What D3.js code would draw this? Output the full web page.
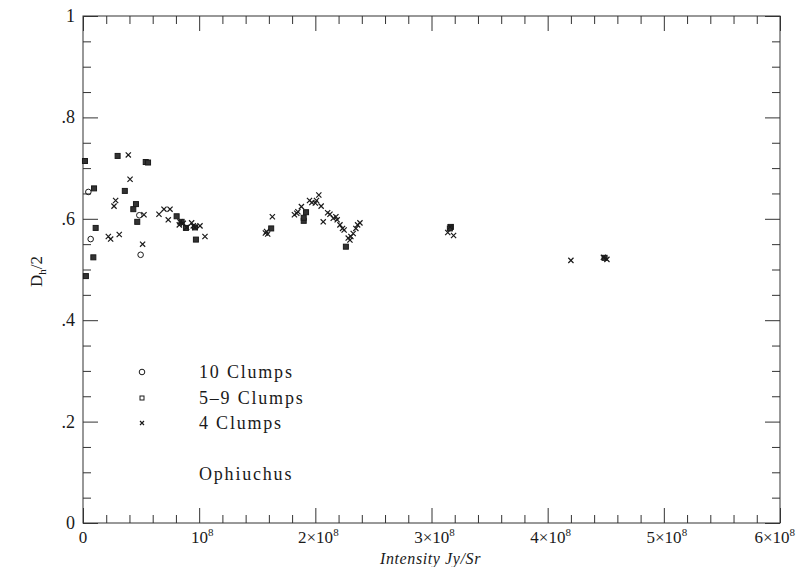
<!DOCTYPE html>
<html><head><meta charset="utf-8">
<script src="https://cdn.jsdelivr.net/npm/d3@7/dist/d3.min.js"></script>
<style>body{margin:0;background:#fff}svg{display:block}</style>
</head><body>
<svg id="c" width="796" height="567"></svg>
<script>
// ---- data ----
const circleX = [4.6e6, 6.6e6, 4.85e7, 4.96e7];
const circleY = [0.653, 0.56, 0.607, 0.529];

const squareX = [1.7e6, 2.5e6, 8.9e6, 9.5e6, 1.09e7, 2.98e7, 3.6e7, 4.56e7, 4.33e7, 4.67e7, 5.4e7, 5.6e7,
  8.06e7, 8.49e7, 8.86e7, 9.64e7, 9.72e7, 1.62e8, 1.92e8, 1.90e8, 1.90e8, 2.263e8, 3.167e8, 3.158e8, 4.49e8];
const squareY = [0.714, 0.487, 0.524, 0.660, 0.582, 0.724, 0.655, 0.629, 0.619, 0.594, 0.712, 0.711,
  0.605, 0.594, 0.582, 0.583, 0.559, 0.581, 0.613, 0.596, 0.602, 0.545, 0.584, 0.581, 0.523];

const crossX = [3.9e7, 4.05e7, 2.81e7, 2.67e7, 5.25e7, 6.54e7, 6.97e7, 7.49e7, 7.34e7, 8.35e7, 8.63e7, 8.29e7,
  8.92e7, 9.35e7, 9.49e7, 9.64e7, 1.007e8, 1.05e8, 2.18e7, 2.38e7, 3.12e7, 5.13e7,
  1.63e8, 1.58e8, 1.57e8, 1.59e8, 1.88e8, 1.84e8, 1.82e8, 1.85e8, 1.95e8, 1.97e8, 2.0e8, 2.01e8, 2.03e8, 2.05e8,
  2.106e8, 2.126e8, 2.068e8, 2.154e8, 2.177e8, 2.188e8, 2.212e8, 2.234e8, 2.248e8, 2.283e8, 2.306e8, 2.326e8,
  2.349e8, 2.364e8, 2.384e8, 2.298e8, 3.16e8, 3.14e8, 3.19e8, 4.2e8, 4.48e8, 4.51e8];
const crossY = [0.726, 0.678, 0.636, 0.625, 0.608, 0.609, 0.619, 0.619, 0.598, 0.594, 0.591, 0.588,
  0.583, 0.592, 0.586, 0.583, 0.586, 0.565, 0.565, 0.56, 0.569, 0.55,
  0.604, 0.575, 0.572, 0.570, 0.624, 0.611, 0.608, 0.614, 0.636, 0.632, 0.631, 0.636, 0.647, 0.625,
  0.612, 0.609, 0.594, 0.601, 0.604, 0.598, 0.588, 0.581, 0.578, 0.562, 0.565, 0.571,
  0.581, 0.588, 0.592, 0.558, 0.584, 0.573, 0.567, 0.518, 0.524, 0.520];

const xMajor = [0, 1e8, 2e8, 3e8, 4e8, 5e8, 6e8];
const xMajorLabels = [["0", ""], ["10", "8"], ["2×10", "8"], ["3×10", "8"], ["4×10", "8"], ["5×10", "8"], ["6×10", "8"]];
const yMajor = [0, 0.2, 0.4, 0.6, 0.8, 1];
const yMajorLabels = ["0", ".2", ".4", ".6", ".8", "1"];
const legendLabels = ["10 Clumps", "5\u20139 Clumps", "4 Clumps"];
const regionLabel = "Ophiuchus";

// ---- layout ----
const L = 83, R = 780, T = 16, B = 523;
const svg = d3.select("#c");
const x = d3.scaleLinear().domain([0, 6e8]).range([L, R]);
const y = d3.scaleLinear().domain([0, 1]).range([B, T]);
const ink = "#1a1a1a";

// frame
svg.append("rect").attr("x", L).attr("y", T).attr("width", R - L).attr("height", B - T)
  .attr("fill", "none").attr("stroke", "#333").attr("stroke-width", 1);

const maj = 15, mnr = 8;
const xMinor = d3.range(0, 6e8 + 1, 2e7).filter(v => Math.round(v / 2e7) % 5 !== 0);
const yMinor = d3.range(0, 1.0001, 0.05).filter(v => Math.round(v / 0.05) % 4 !== 0);

function addAxis(axis, tx, ty) {
  const g = svg.append("g").attr("transform", `translate(${tx},${ty})`).call(axis);
  g.select(".domain").remove();
  g.selectAll("line").attr("stroke", "#333");
  g.selectAll("text").remove();
}
addAxis(d3.axisBottom(x).tickValues(xMajor).tickSize(-maj), 0, B);
addAxis(d3.axisBottom(x).tickValues(xMinor).tickSize(-mnr), 0, B);
addAxis(d3.axisTop(x).tickValues(xMajor).tickSize(-maj), 0, T);
addAxis(d3.axisTop(x).tickValues(xMinor).tickSize(-mnr), 0, T);
addAxis(d3.axisLeft(y).tickValues(yMajor).tickSize(-maj), L, 0);
addAxis(d3.axisLeft(y).tickValues(yMinor).tickSize(-mnr), L, 0);
addAxis(d3.axisRight(y).tickValues(yMajor).tickSize(-maj), R, 0);
addAxis(d3.axisRight(y).tickValues(yMinor).tickSize(-mnr), R, 0);

// tick labels
const lblFont = "'Liberation Serif', 'DejaVu Serif', serif";
xMajor.forEach((v, i) => {
  const last = i === xMajor.length - 1;
  const t = svg.append("text").attr("x", last ? 795 : x(v) + (xMajorLabels[i][1] ? 3 : 0)).attr("y", B + 20)
    .attr("text-anchor", last ? "end" : "middle").attr("font-family", lblFont).attr("font-size", 17).attr("fill", ink);
  t.append("tspan").text(xMajorLabels[i][0]);
  if (xMajorLabels[i][1]) t.append("tspan").attr("dy", -7).attr("font-size", 11).text(xMajorLabels[i][1]);
});
yMajor.forEach((v, i) => {
  svg.append("text").attr("x", L - 8).attr("y", y(v) + 6).attr("text-anchor", "end")
    .attr("font-family", lblFont).attr("font-size", 18).attr("fill", ink).text(yMajorLabels[i]);
});

// axis titles
svg.append("text").attr("x", (L + R) / 2 - 1).attr("y", 564).attr("text-anchor", "middle")
  .attr("font-family", lblFont).attr("font-style", "italic").attr("font-size", 16).attr("fill", ink)
  .attr("letter-spacing", 0.6).text("Intensity  Jy/Sr");
const yt = svg.append("text").attr("transform", `translate(42,${(T + B) / 2 + 2}) rotate(-90)`)
  .attr("text-anchor", "middle").attr("font-family", lblFont).attr("font-size", 17).attr("fill", ink);
yt.append("tspan").text("D");
yt.append("tspan").attr("dy", 4).attr("font-size", 11).text("h");
yt.append("tspan").attr("dy", -4).text("/2");

// markers
const g = svg.append("g");
function drawCircle(cx, cy) {
  g.append("circle").attr("cx", cx).attr("cy", cy).attr("r", 2.8)
    .attr("fill", "none").attr("stroke", ink).attr("stroke-width", 1);
}
function drawSquare(cx, cy, fill) {
  g.append("rect").attr("x", cx - 2.5).attr("y", cy - 2.5).attr("width", 5).attr("height", 5)
    .attr("fill", fill).attr("stroke", ink).attr("stroke-width", 1);
}
function drawCross(cx, cy, s) {
  g.append("path").attr("d", `M${cx - s},${cy - s}L${cx + s},${cy + s}M${cx - s},${cy + s}L${cx + s},${cy - s}`)
    .attr("stroke", ink).attr("stroke-width", 1.2).attr("fill", "none");
}
circleX.forEach((v, i) => drawCircle(x(v), y(circleY[i])));
squareX.forEach((v, i) => drawSquare(x(v), y(squareY[i]), "#333"));
crossX.forEach((v, i) => drawCross(x(v), y(crossY[i]), 2.6));

// legend
const legFont = "'Liberation Serif', 'DejaVu Serif', serif";
const legY = [372, 398, 423];
drawCircle(142, legY[0]);
g.append("rect").attr("x", 140).attr("y", legY[1] - 2).attr("width", 4).attr("height", 4)
  .attr("fill", "none").attr("stroke", ink).attr("stroke-width", 1);
drawCross(142, legY[2], 2);
legendLabels.forEach((t, i) => {
  svg.append("text").attr("x", 199).attr("y", legY[i] + 6).attr("font-family", legFont)
    .attr("font-size", 18).attr("letter-spacing", 1.8).attr("fill", ink).text(t);
});
svg.append("text").attr("x", 199).attr("y", 480).attr("font-family", legFont)
  .attr("font-size", 18).attr("letter-spacing", 1.8).attr("fill", ink).text(regionLabel);
</script>
</body></html>
